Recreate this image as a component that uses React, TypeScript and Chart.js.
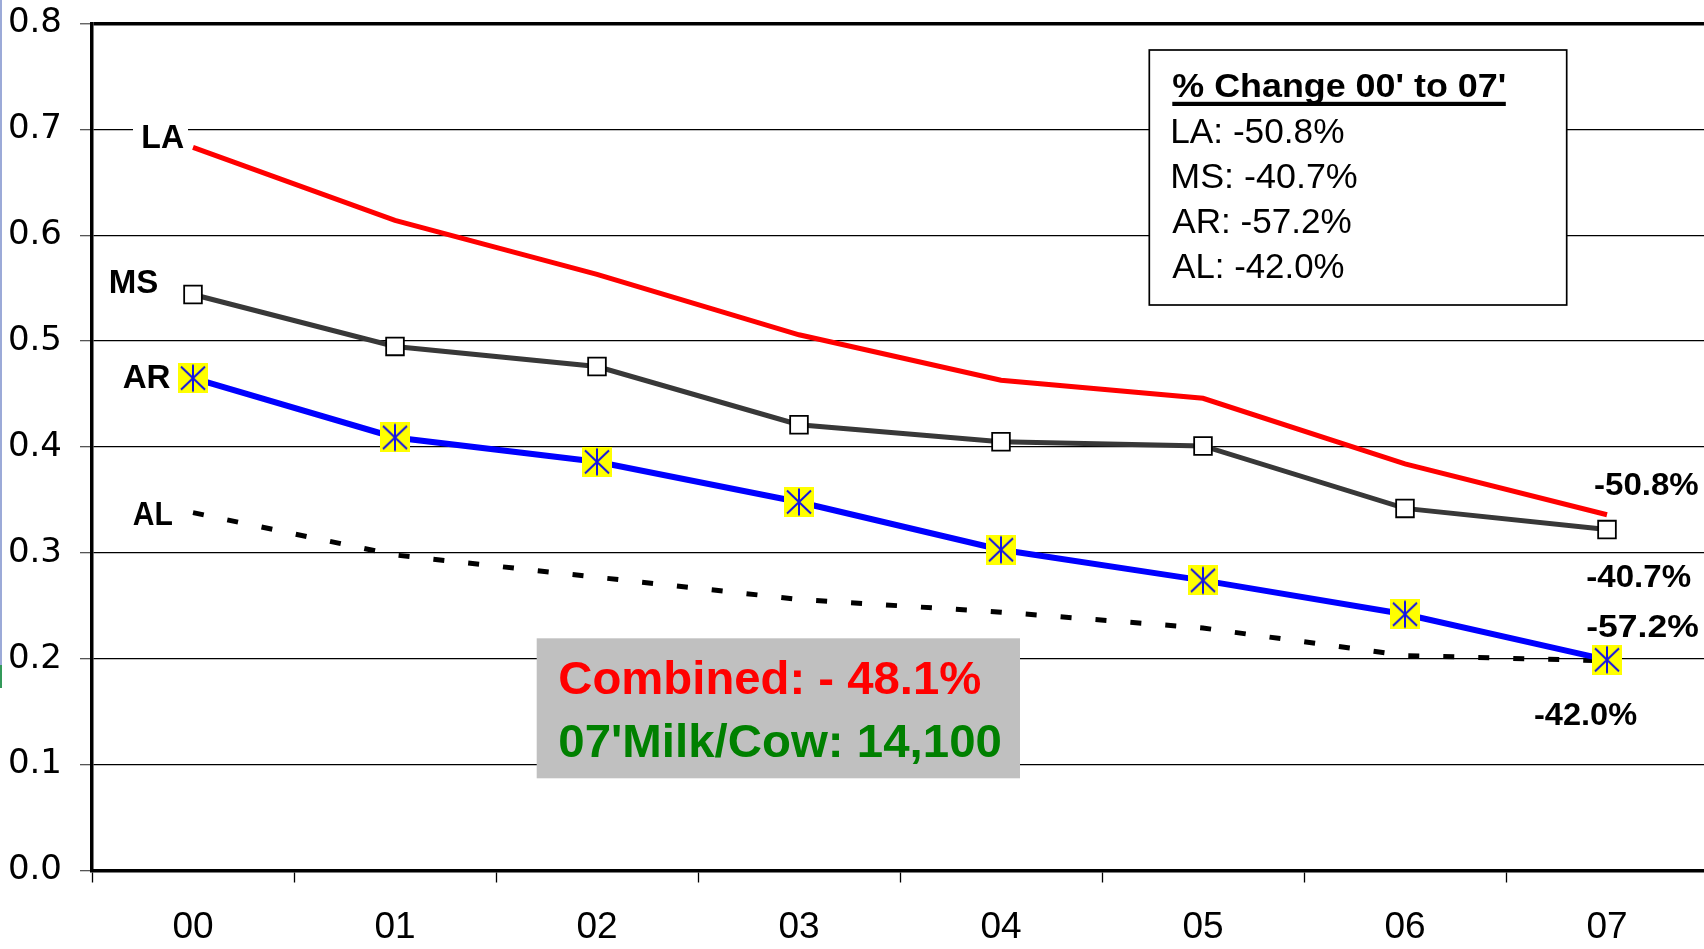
import React, { useEffect, useRef } from 'react';
import { Chart, registerables } from 'chart.js';

Chart.register(...registerables);

// ---------- data ----------
const years = ['00', '01', '02', '03', '04', '05', '06', '07'];
const laValues = [0.683, 0.614, 0.563, 0.506, 0.463, 0.446, 0.384, 0.336];
const msValues = [0.544, 0.495, 0.476, 0.421, 0.405, 0.401, 0.342, 0.322];
const arValues = [0.465, 0.409, 0.386, 0.348, 0.303, 0.274, 0.242, 0.199];
const alValues = [0.338, 0.298, 0.277, 0.256, 0.244, 0.229, 0.203, 0.198];
const seriesNames = ['LA', 'MS', 'AR', 'AL'];
const endLabels = ['-50.8%', '-40.7%', '-57.2%', '-42.0%'];
const changeTitle = "% Change 00' to 07'";
const changeLines = ['LA: -50.8%', 'MS: -40.7%', 'AR: -57.2%', 'AL: -42.0%'];
const combinedText = 'Combined: - 48.1%';
const milkText = "07'Milk/Cow: 14,100";
const yMin = 0;
const yMax = 0.8;
const yStep = 0.1;

// ---------- layout (pixels) ----------
const W = 1704;
const H = 949;
const CANVAS_W = 1729; // plot area runs slightly past the right edge of the view
// [x of ink left, baseline, ink width, font size]
const nameLabelPos: [number, number, number, number][] = [
  [143.3, 148.3, 40, 33],
  [110.7, 292.5, 46.6, 33],
  [122.7, 388.3, 48, 33],
  [132.7, 525, 40, 33],
];
const endLabelPos: [number, number, number, number][] = [
  [1595, 495, 103.3, 32],
  [1587.3, 586.7, 103.4, 32],
  [1587.3, 636.7, 111, 32],
  [1535, 725, 101.7, 32],
];
const changeLinePos: [number, number][] = [
  [142.7, 171],
  [187.7, 184.3],
  [232.7, 178.3],
  [277.7, 171],
];

const FONT = '"Liberation Sans", Arial, Helvetica, sans-serif';

function drawFit(
  ctx: CanvasRenderingContext2D,
  text: string,
  x: number,
  baseY: number,
  size: number,
  bold: boolean,
  color: string,
  inkW: number
) {
  ctx.save();
  ctx.font = `${bold ? 'bold ' : ''}${size}px ${FONT}`;
  ctx.fillStyle = color;
  ctx.textAlign = 'left';
  ctx.textBaseline = 'alphabetic';
  const m = ctx.measureText(text);
  const ink = m.actualBoundingBoxLeft + m.actualBoundingBoxRight;
  const sx = ink > 0 ? inkW / ink : 1;
  ctx.translate(x, baseY);
  ctx.scale(sx, 1);
  ctx.fillText(text, m.actualBoundingBoxLeft, 0);
  ctx.restore();
}

function makeStarMarker(): HTMLCanvasElement {
  const c = document.createElement('canvas');
  c.width = 30;
  c.height = 30;
  const g = c.getContext('2d') as CanvasRenderingContext2D;
  g.fillStyle = '#FFFF00';
  g.fillRect(0, 0, 30, 30);
  g.strokeStyle = '#1414E6';
  g.lineWidth = 2;
  g.beginPath();
  g.moveTo(15, 1.5);
  g.lineTo(15, 28.5);
  g.moveTo(3, 3.5);
  g.lineTo(27, 26.5);
  g.moveTo(27, 3.5);
  g.lineTo(3, 26.5);
  g.stroke();
  return c;
}

const annotationPlugin = {
  id: 'annotations',
  beforeDraw(chart: any) {
    const ctx: CanvasRenderingContext2D = chart.ctx;
    ctx.save();
    ctx.fillStyle = '#FFFFFF';
    ctx.fillRect(0, 0, chart.width, chart.height);
    ctx.fillStyle = '#9CAAD8';
    ctx.fillRect(0, 0, 2, 665);
    ctx.fillStyle = '#33995A';
    ctx.fillRect(0, 665, 2, 23);
    ctx.restore();
  },
  afterDraw(chart: any) {
    const ctx: CanvasRenderingContext2D = chart.ctx;
    ctx.save();
    // white gap behind "LA" label on the grid line
    ctx.fillStyle = '#FFFFFF';
    ctx.fillRect(133, 118, 55, 34);

    seriesNames.forEach((name, i) => {
      const [x, y, w, s] = nameLabelPos[i];
      drawFit(ctx, name, x, y, s, true, '#000000', w);
    });
    endLabels.forEach((t, i) => {
      const [x, y, w, s] = endLabelPos[i];
      drawFit(ctx, t, x, y, s, true, '#000000', w);
    });

    // % change box
    ctx.fillStyle = '#FFFFFF';
    ctx.fillRect(1149.3, 50, 417.4, 255);
    ctx.strokeStyle = '#000000';
    ctx.lineWidth = 1.7;
    ctx.strokeRect(1149.3, 50, 417.4, 255);
    drawFit(ctx, changeTitle, 1172.3, 96.7, 33, true, '#000000', 333);
    ctx.fillStyle = '#000000';
    ctx.fillRect(1172.3, 101.8, 333.5, 4.2);
    changeLines.forEach((t, i) => {
      const [y, w] = changeLinePos[i];
      drawFit(ctx, t, 1172.3, y, 35, false, '#000000', w);
    });

    // combined box
    ctx.fillStyle = '#C0C0C0';
    ctx.fillRect(536.7, 638.3, 483.3, 140);
    drawFit(ctx, combinedText, 559.3, 694, 46.5, true, '#FF0000', 421.7);
    drawFit(ctx, milkText, 559.3, 756.5, 46.5, true, '#008000', 440.7);
    ctx.restore();
  },
};

export default function App() {
  const ref = useRef<HTMLCanvasElement | null>(null);

  useEffect(() => {
    const canvas = ref.current;
    if (!canvas) return;
    const star = makeStarMarker();
    const chart = new Chart(canvas, {
      type: 'line',
      data: {
        labels: years,
        datasets: [
          {
            label: 'AR',
            data: arValues,
            borderColor: '#0000FF',
            borderWidth: 6,
            pointStyle: star as any,
            pointRadius: 15,
            pointHoverRadius: 15,
            tension: 0,
            fill: false,
          },
          {
            label: 'MS',
            data: msValues,
            borderColor: '#383838',
            borderWidth: 5,
            pointStyle: 'rect',
            pointRadius: 12.5,
            pointBackgroundColor: '#FFFFFF',
            pointBorderColor: '#000000',
            pointBorderWidth: 1.8,
            tension: 0,
            fill: false,
          },
          {
            label: 'LA',
            data: laValues,
            borderColor: '#FF0000',
            borderWidth: 5,
            pointRadius: 0,
            tension: 0,
            fill: false,
          },
          {
            label: 'AL',
            data: alValues,
            borderColor: '#000000',
            borderWidth: 5,
            borderDash: [11, 24],
            pointRadius: 0,
            tension: 0,
            fill: false,
          },
        ],
      },
      options: {
        responsive: false,
        devicePixelRatio: 1,
        animation: false,
        events: [],
        layout: { padding: { top: 23.5, right: 0, left: 0, bottom: 0 } },
        plugins: {
          legend: { display: false },
          tooltip: { enabled: false },
        },
        scales: {
          x: {
            type: 'category',
            offset: true,
            grid: {
              offset: true,
              drawOnChartArea: false,
              drawTicks: true,
              tickLength: 12,
              tickColor: '#000000',
              tickWidth: 1.3,
            },
            border: { display: true, color: '#000000', width: 3.5 },
            ticks: {
              color: '#000000',
              font: { family: FONT, size: 37 },
              padding: 23,
              maxRotation: 0,
              autoSkip: false,
            },
            afterFit: (s: any) => {
              s.height = 78.5;
              s.paddingLeft = 0;
              s.paddingRight = 0;
            },
          },
          y: {
            min: yMin,
            max: yMax,
            grid: {
              color: '#000000',
              lineWidth: (c: any) =>
                c.tick && Math.abs(c.tick.value - yMax) < 1e-6 ? 3.5 : 1.3,
              drawTicks: true,
              tickLength: 12,
              tickColor: '#555555',
              tickWidth: 1.3,
            },
            border: { display: true, color: '#000000', width: 3.5 },
            ticks: {
              stepSize: yStep,
              color: '#000000',
              font: { family: '"DejaVu Sans", Verdana, sans-serif', size: 34 },
              padding: 18,
              callback: (v: any) => Number(v).toFixed(1),
            },
            afterFit: (s: any) => {
              s.width = 92;
              s.paddingTop = 0;
              s.paddingBottom = 0;
            },
          },
        },
      },
      plugins: [annotationPlugin],
    });
    return () => chart.destroy();
  }, []);

  return (
    <div
      style={{
        position: 'fixed',
        left: 0,
        top: 0,
        width: W,
        height: H,
        overflow: 'hidden',
        background: '#FFFFFF',
      }}
    >
      <canvas ref={ref} width={CANVAS_W} height={H} style={{ display: 'block' }} />
    </div>
  );
}
